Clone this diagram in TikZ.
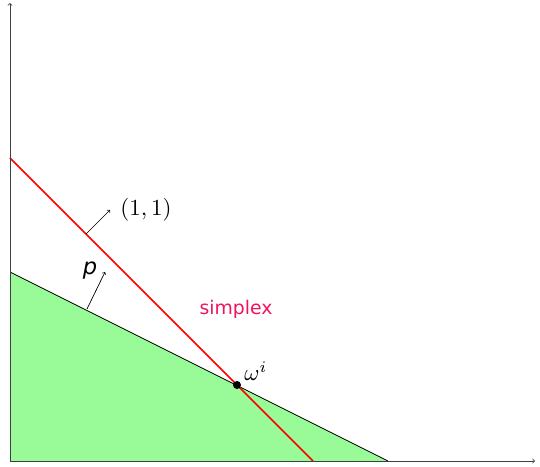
\documentclass[tikz,border=0pt]{standalone}
\usepackage{fontspec}
\setsansfont{DejaVu Sans}
\usepackage{xcolor}
\definecolor{simplexc}{RGB}{240,20,90}
\definecolor{regionc}{RGB}{152,251,152}
\begin{document}
\begin{tikzpicture}[x=1pt,y=1pt,
  axis/.style={->,>=to,draw=black!75,line width=0.8pt},
  thinline/.style={draw=black,line width=0.8pt},
  redline/.style={draw=red,line width=1.5pt},
  mlbl/.style={scale=2.3,inner sep=0pt},
  slbl/.style={scale=1.88,font=\sffamily,inner sep=0pt},
  normal/.style={->,>=to,line width=0.7pt}]
\useasboundingbox (0,0) rectangle (540,466);
\coordinate (O) at (10,5);
\coordinate (ytop) at (10,463);
\coordinate (xend) at (535,5);
\coordinate (g1) at (10,194);
\coordinate (g2) at (388,5);
\coordinate (r1) at (10,308);
\coordinate (r2) at (313,5);
\fill[regionc] (O) -- (g1) -- (g2) -- cycle;
\draw[thinline] (g1) -- (g2);
\draw[redline] (r1) -- (r2);
\draw[axis] (O) -- (ytop);
\draw[axis] (O) -- (xend);
\coordinate (a1) at (86,232);
\coordinate (a2) at (110,256);
\draw[normal] (a1) -- (a2);
\node[mlbl,anchor=west] (oneone) at (120,256) {$(1,1)$};
\coordinate (p1) at (87,157);
\coordinate (p2) at (105,194);
\draw[normal] (p1) -- (p2);
\node[slbl,scale=1.2] (plbl) at (90,195) {\itshape p};
\node[slbl,text=simplexc] (simp) at (236,157) {simplex};
\node[circle,fill=black,inner sep=0pt,minimum size=8pt] (w) at (237,81) {};
\node[mlbl,anchor=west] (wl) at (244,95) {$\omega^i$};
\end{tikzpicture}
\end{document}
